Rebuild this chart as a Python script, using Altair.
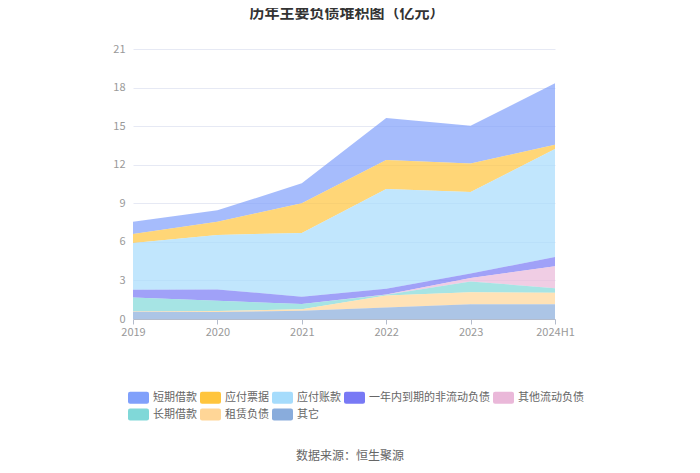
import altair as alt
import pandas as pd

years = ["2019", "2020", "2021", "2022", "2023", "2024H1"]
series_names = ["短期借款", "应付票据", "应付账款", "一年内到期的非流动负债", "其他流动负债", "长期借款", "租赁负债", "其它"]
short_loans = [0.96, 0.88, 1.55, 3.27, 2.93, 4.78]
notes_payable = [0.69, 1.03, 2.31, 2.25, 2.23, 0.33]
accounts_payable = [3.65, 4.24, 4.96, 7.76, 6.33, 8.39]
current_noncurrent = [0.59, 0.88, 0.57, 0.45, 0.36, 0.72]
other_current = [0.0, 0.0, 0.0, 0.02, 0.26, 1.71]
long_loans = [1.08, 0.79, 0.41, 0.05, 0.83, 0.36]
lease = [0.03, 0.08, 0.11, 0.93, 0.95, 0.90]
others = [0.57, 0.55, 0.64, 0.90, 1.14, 1.14]
colors = ["#80a0fb", "#ffc53d", "#a6dcfc", "#7879f5", "#eab8d9", "#80d8d8", "#ffd697", "#89acdc"]
title_text = "历年主要负债堆积图（亿元）"
source_text = "数据来源：恒生聚源"

series_values = [short_loans, notes_payable, accounts_payable, current_noncurrent,
                 other_current, long_loans, lease, others]
rows = []
for i, (name, vals) in enumerate(zip(series_names, series_values)):
    for y, v in zip(years, vals):
        rows.append({"year": y, "series": name, "value": v, "ord": len(series_names) - i})
df = pd.DataFrame(rows)

rr = ("M-0.8,-0.57 L0.8,-0.57 Q1,-0.57 1,-0.37 L1,0.37 Q1,0.57 0.8,0.57 "
      "L-0.8,0.57 Q-1,0.57 -1,0.37 L-1,-0.37 Q-1,-0.57 -0.8,-0.57 Z")

areas = alt.Chart(df).mark_area(opacity=0.7, interpolate="linear").encode(
    x=alt.X("year:O", sort=years, scale=alt.Scale(type="point", padding=0),
            axis=alt.Axis(title=None, labelAngle=0, labelColor="#999999", labelFontSize=11,
                          domainColor="#b4bccc", tickColor="#b4bccc", tickSize=5,
                          labelPadding=2, grid=False, labelFont="Noto Sans CJK SC")),
    y=alt.Y("value:Q", stack="zero",
            scale=alt.Scale(domain=[0, 21], nice=False),
            axis=alt.Axis(title=None, values=[0, 3, 6, 9, 12, 15, 18, 21], domain=False,
                          ticks=False, labelColor="#999999", labelFontSize=11, labelPadding=8,
                          gridColor="#e6e9f4", labelFont="Noto Sans CJK SC")),
    color=alt.Color("series:N", sort=series_names,
                    scale=alt.Scale(domain=series_names, range=colors),
                    legend=alt.Legend(title=None, orient="none", legendX=-5, legendY=338,
                                      direction="horizontal", columns=5, symbolType=rr,
                                      symbolSize=441, symbolOpacity=1, symbolStrokeWidth=0,
                                      labelFontSize=11, labelColor="#666666",
                                      labelFont="Noto Sans CJK SC", labelOffset=4,
                                      columnPadding=3, rowPadding=-2)),
    order=alt.Order("ord:Q"),
)

src = alt.Chart(pd.DataFrame({"t": [source_text]})).mark_text(
    fontSize=12, color="#666666", font="Noto Sans CJK SC", align="center", baseline="middle"
).encode(x=alt.value(217), y=alt.value(407), text="t:N")

chart = alt.layer(areas, src).properties(
    width=422, height=270,
    title=alt.TitleParams(title_text, fontSize=15, fontWeight="bold", color="#333333",
                          font="Noto Sans CJK SC", anchor="middle", dx=3, offset=22),
    autosize=alt.AutoSizeParams(type="none"),
    padding={"left": 125, "top": 41, "right": 137, "bottom": 146},
).configure_view(stroke=None)

chart.save("out.html", embed_options={"renderer": "svg", "actions": False})
